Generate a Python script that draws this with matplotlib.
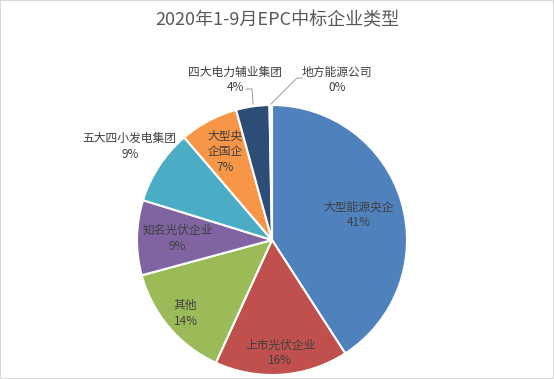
import numpy as np
import matplotlib
matplotlib.use("Agg")
import matplotlib.pyplot as plt
from matplotlib.patches import Rectangle

plt.rcParams['font.family'] = ['Noto Sans CJK SC', 'DejaVu Sans']

title = "2020年1-9月EPC中标企业类型"
categories = ["大型能源央企", "上市光伏企业", "其他", "知名光伏企业",
              "五大四小发电集团", "大型央\n企国企", "四大电力辅业集团", "地方能源公司"]
values = [41.0, 16.0, 14.0, 9.0, 9.0, 7.0, 4.0, 0.3]
colors = ["#4F81BD", "#C0504D", "#9BBB59", "#8064A2",
          "#4BACC6", "#F79646", "#2C4D75", "#EDEDF2"]

W, H = 554, 379
cx, cy, R = 272, 240, 135  # pixel centre & radius

fig = plt.figure(figsize=(W / 100, H / 100), dpi=100)
ax = fig.add_axes([0, 0, 1, 1])

wedges, _ = ax.pie(values, colors=colors, startangle=90, counterclock=False,
                   radius=1.0, center=(0, 0),
                   wedgeprops=dict(edgecolor="white", linewidth=1.5))
ax.set_xlim(-cx / R, (W - cx) / R)
ax.set_ylim(-(H - cy) / R, cy / R)
ax.set_aspect('auto')
ax.axis('off')

total = sum(values)
pcts = [f"{round(v / total * 100):.0f}%" for v in values]

# label radial distances (fraction of radius) per slice
label_r = [0.67, 0.84, 0.84, 0.70, 1.26, 0.74, None, None]
txtcol = "#404040"
fs = 8.5
for i, w in enumerate(wedges):
    if label_r[i] is None:
        continue
    ang = np.deg2rad((w.theta1 + w.theta2) / 2)
    x, y = label_r[i] * np.cos(ang), label_r[i] * np.sin(ang)
    ax.text(x, y, categories[i] + "\n" + pcts[i], ha='center', va='center',
            fontsize=fs, color=txtcol, linespacing=1.25)

def px(xp, yp):
    return ((xp - cx) / R, (cy - yp) / R)

# 四大电力辅业集团 (outside, with leader)
w = wedges[6]
ang = np.deg2rad((w.theta1 + w.theta2) / 2)
tx, ty = px(235, 80)
ax.text(tx, ty, categories[6] + "\n" + pcts[6], ha='center', va='center',
        fontsize=fs, color=txtcol, linespacing=1.25)
ax.plot([px(246, 89)[0], px(252, 89)[0], px(253, 104)[0]],
        [px(246, 89)[1], px(252, 89)[1], px(253, 104)[1]],
        color="#A6A6A6", lw=0.8)

# 地方能源公司 (outside, with leader)
tx, ty = px(337, 80)
ax.text(tx, ty, categories[7] + "\n" + pcts[7], ha='center', va='center',
        fontsize=fs, color=txtcol, linespacing=1.25)
ax.plot([px(271, 104)[0], px(297, 78)[0], px(302, 78)[0]],
        [px(271, 104)[1], px(297, 78)[1], px(302, 78)[1]],
        color="#A6A6A6", lw=0.8)

fig.text(0.5, 1 - 20 / H, title, ha='center', va='center',
         fontsize=13, color="#595959")

fig.patches.append(Rectangle((0, 0), 1, 1, transform=fig.transFigure,
                             fill=False, edgecolor="#D9D9D9", lw=1.5))

fig.savefig("out.png", dpi=100)
